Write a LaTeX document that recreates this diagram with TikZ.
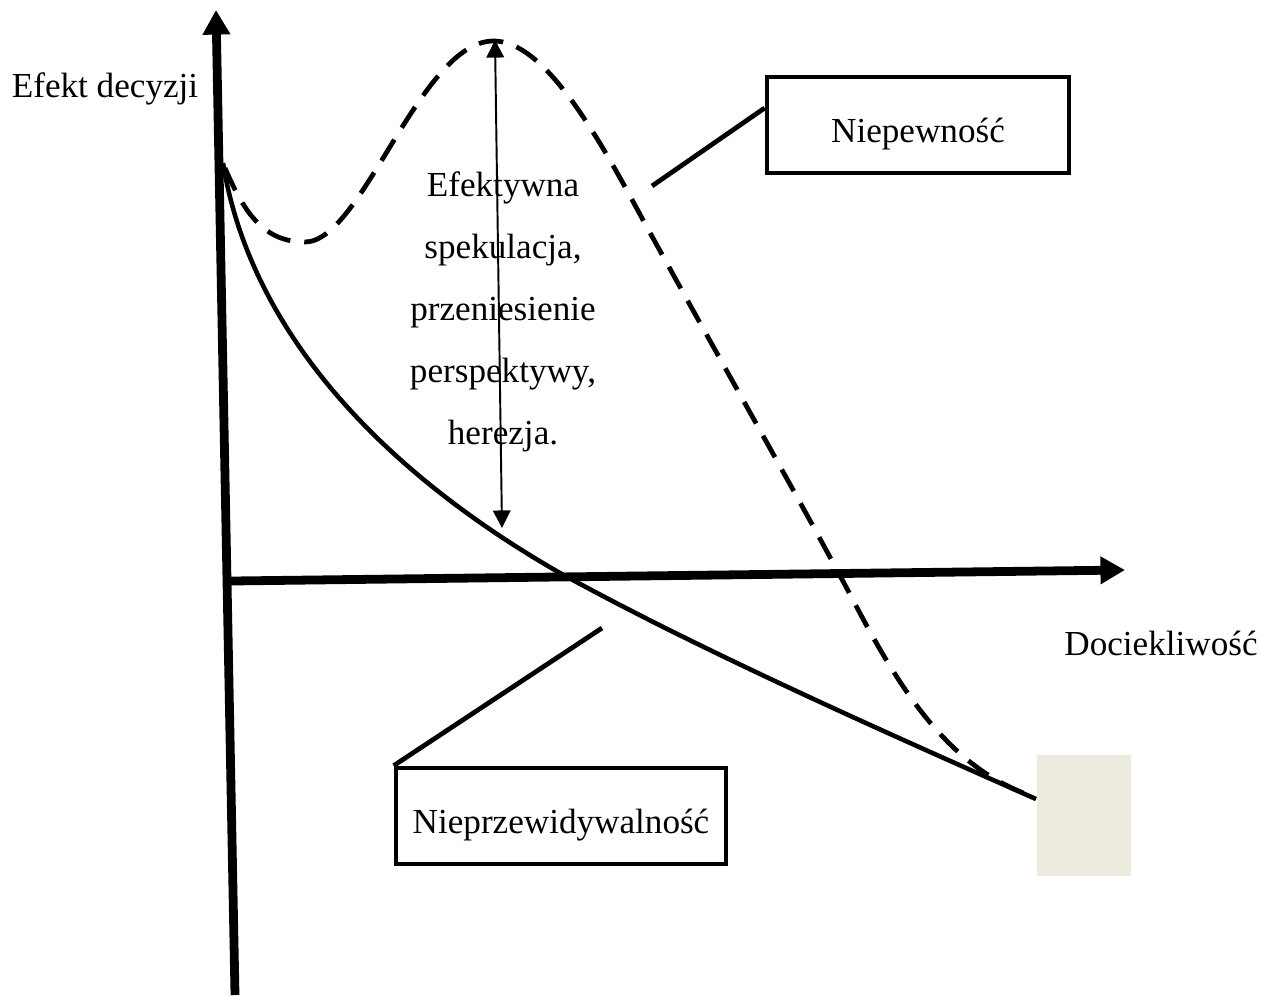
\documentclass[tikz,border=0pt]{standalone}
\usepackage{fontspec}
\setmainfont{Liberation Serif}
\usetikzlibrary{positioning,calc,arrows.meta}
\definecolor{Sand}{HTML}{EDEBE0}

\begin{document}
\begin{tikzpicture}[x=0.02cm,y=-0.02cm,
    axis/.style={line width=5pt,-{Triangle[length=14pt,width=15pt]}},
    curve/.style={line width=2.6pt},
    labelbox/.style={draw,line width=2.7pt,minimum width=6.04cm,minimum height=1.92cm,
      text height=20pt,text depth=0pt,font=\fontsize{20}{24}\selectfont},
    txt/.style={font=\fontsize{20}{24}\selectfont}]
  \useasboundingbox (0,0) rectangle (1263,995);
  \coordinate (yb) at (235,995);
  \coordinate (yt) at (216,10);
  \coordinate (xl) at (231,581);
  \coordinate (xr) at (1125,570);
  \draw[axis] (yb) -- (yt);
  \draw[axis] (xl) -- (xr);
  \node[txt] (ylab) at (105,89) {Efekt decyzji};
  \node[txt] (xlab) at (1161,643) {Dociekliwość};
  \node[fill=Sand,minimum width=1.88cm,minimum height=2.42cm,inner sep=0pt] (patch) at (1084,815.5) {};
  \coordinate (cstart) at (223,163);
  \coordinate (cend) at (1036,799);
  \draw[curve] (cstart) .. controls (250,330) and (380,470) .. (560,573)
    .. controls (700,650) and (880,730) .. (cend);
  \coordinate (dstart) at (225,168);
  \draw[curve,line width=2.7pt,dash pattern=on 14pt off 8pt] (dstart) .. controls (245,215) and (265,242) .. (305,242)
    .. controls (362,242) and (420,42) .. (493,41)
    .. controls (545,40) and (600,140) .. (643,220)
    .. controls (720,360) and (800,500) .. (853,600)
    .. controls (900,690) and (950,770) .. (1035,797);
  \node[txt,align=center,font=\fontsize{20}{35.3}\selectfont] (spec) at (503,312)
    {Efektywna\\spekulacja,\\przeniesienie\\perspektywy,\\herezja.};
  \coordinate (dtop) at (495,40);
  \coordinate (dbot) at (502,528);
  \draw[line width=1.1pt,{Triangle[length=10pt,width=10pt]}-{Triangle[length=10pt,width=10pt]}] (dtop) -- (dbot);
  \node[labelbox] (unc) at (918,125) {Niepewność};
  \node[labelbox,minimum width=6.6cm] (unp) at (561,816) {Nieprzewidywalność};
  \coordinate (uncTip) at (652,186);
  \coordinate (unpTip) at (602,628);
  \draw[line width=2.7pt] ([yshift=0.34cm]unc.west) -- (uncTip);
  \draw[line width=2.7pt] (unp.north west) -- (unpTip);
\end{tikzpicture}
\end{document}
